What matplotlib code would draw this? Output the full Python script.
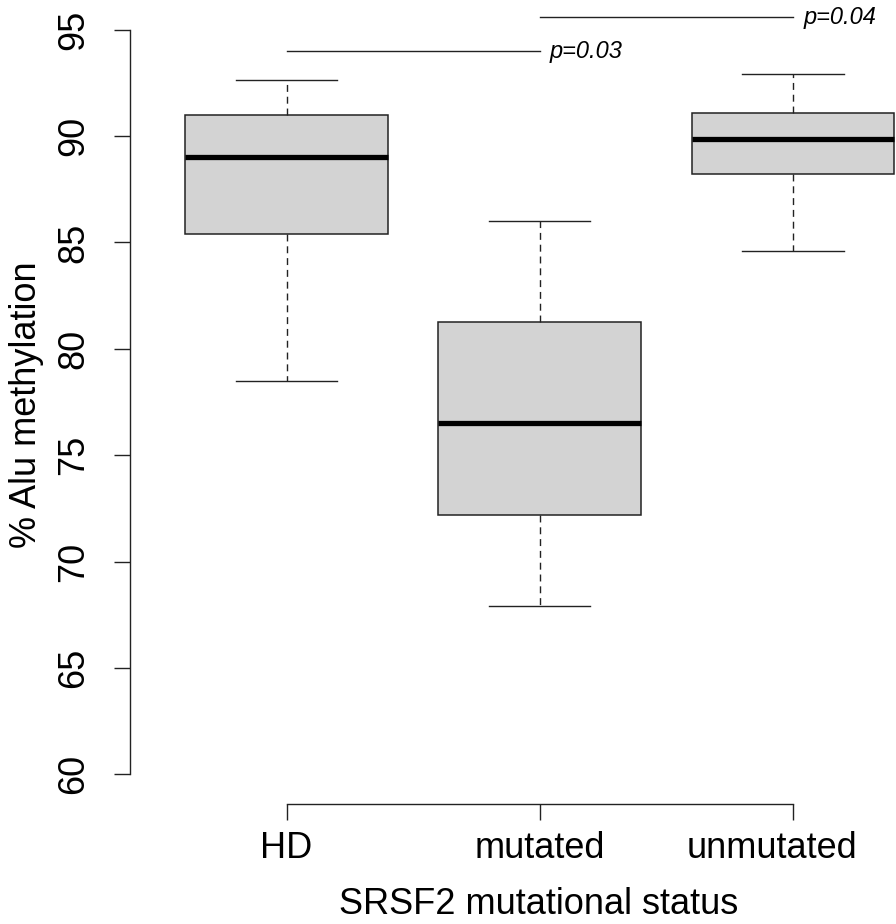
import matplotlib.pyplot as plt
from matplotlib.transforms import ScaledTranslation

plt.rcParams['font.family'] = ['Liberation Sans', 'DejaVu Sans']

# box statistics
groups = ["HD", "mutated", "unmutated"]
whislo = [78.5, 67.9, 84.6]
q1 = [85.4, 72.2, 88.2]
med = [89.0, 76.5, 89.85]
q3 = [91.0, 81.25, 91.1]
whishi = [92.65, 86.0, 92.9]

# significance brackets: (from group, to group, y, label)
sig_from = [1, 2]
sig_to = [2, 3]
sig_y = [94.0, 95.6]
sig_lab = ["p=0.03", "p=0.04"]

fig = plt.figure(figsize=(8.96, 9.24), dpi=100)
ax = fig.add_axes([129.5/896, 1 - 804/924, (950 - 129.5)/896, 804/924])

stats = []
for i in range(len(groups)):
    stats.append(dict(whislo=whislo[i], q1=q1[i], med=med[i], q3=q3[i],
                      whishi=whishi[i], fliers=[], label=groups[i]))

ax.bxp(stats, positions=[1, 2, 3], widths=0.8, capwidths=0.4,
       showfliers=False, patch_artist=True,
       boxprops=dict(facecolor='#d3d3d3', edgecolor='#222222', linewidth=1.1),
       medianprops=dict(color='black', linewidth=3.8, solid_capstyle='butt'),
       whiskerprops=dict(color='#222222', linewidth=1.0, linestyle=(0, (5, 3.5))),
       capprops=dict(color='#222222', linewidth=1.0))

for a, b, y, lab in zip(sig_from, sig_to, sig_y, sig_lab):
    ax.plot([a, b], [y, y], color='#222222', lw=1.0, clip_on=False)
    ax.text(b + 0.04, y, lab, fontsize=17, style='italic', va='center', ha='left')

ax.set_xlim(0.38, 3.62)
ax.set_ylim(58.6, 96.4)
ax.set_yticks(range(60, 96, 5))
ax.set_xticks([1, 2, 3])
ax.set_xticklabels(groups)

for s in ['top', 'right']:
    ax.spines[s].set_visible(False)
ax.spines['left'].set_bounds(60, 95)
ax.spines['bottom'].set_bounds(1, 3)
for s in ['left', 'bottom']:
    ax.spines[s].set_linewidth(1.0)
    ax.spines[s].set_color('#222222')

ax.tick_params(axis='both', length=11.5, width=1.0, color='#222222', labelsize=26)
ax.tick_params(axis='y', labelrotation=90, pad=16)
ax.tick_params(axis='x', pad=8)
for t in ax.get_yticklabels():
    t.set_va('center')

# last category label sits a bit left of its tick in the original
lbl = ax.get_xticklabels()[-1]
lbl.set_transform(lbl.get_transform() + ScaledTranslation(-0.21, 0, fig.dpi_scale_trans))

fig.text(27/896, 1 - 405/924, "% Alu methylation", rotation=90, fontsize=26,
         ha='center', va='center')
fig.text(539/896, 1 - 905/924, "SRSF2 mutational status", fontsize=26,
         ha='center', va='center')

fig.savefig("out.png", dpi=100)
